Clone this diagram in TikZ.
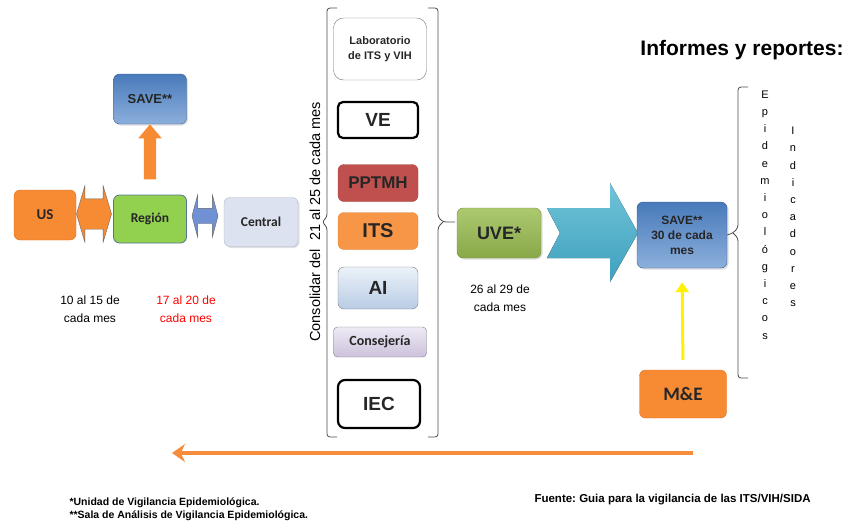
\documentclass[tikz,border=0pt]{standalone}
\usepackage{fontspec}
\setmainfont{Liberation Sans}
\newfontfamily\calibrifont{Carlito}
\usetikzlibrary{shapes.arrows,arrows.meta,shadows}
\definecolor{usorange}{RGB}{247,139,52}
\definecolor{usborder}{RGB}{222,110,30}
\definecolor{regiongreen}{RGB}{146,208,80}
\definecolor{regionborder}{RGB}{85,115,150}
\definecolor{savetop}{RGB}{72,122,186}
\definecolor{savebottom}{RGB}{140,175,220}
\definecolor{saveborder}{RGB}{60,95,145}
\definecolor{centralfill}{RGB}{221,226,240}
\definecolor{centralborder}{RGB}{175,182,200}
\definecolor{pptmhred}{RGB}{192,80,77}
\definecolor{itsorange}{RGB}{247,150,70}
\definecolor{aitop}{RGB}{236,242,249}
\definecolor{aibottom}{RGB}{184,204,228}
\definecolor{consejtop}{RGB}{238,234,244}
\definecolor{consejbottom}{RGB}{204,193,219}
\definecolor{uvetop}{RGB}{172,201,112}
\definecolor{uvebottom}{RGB}{137,168,72}
\definecolor{uveborder}{RGB}{118,146,62}
\definecolor{chevtop}{RGB}{112,196,216}
\definecolor{chevbottom}{RGB}{62,160,190}
\definecolor{arrowblue}{RGB}{112,146,212}
\definecolor{flowline}{RGB}{247,140,60}

\tikzset{
  box/.style={draw, rounded corners=6pt, inner sep=1pt, align=center, text=black!85},
  thickbox/.style={box, fill=white, line width=2.2pt, draw=black, rounded corners=5pt},
  softshadow/.style={drop shadow={opacity=0.25, shadow xshift=1.5pt, shadow yshift=-1.5pt}},
  bracket/.style={draw=black!70, line width=0.8pt, rounded corners=3pt},
  datetext/.style={align=center, font=\fontsize{12}{18}\selectfont},
  stackedtext/.style={align=center, font=\fontsize{11}{17.2}\selectfont},
}

\begin{document}
\frenchspacing
\begin{tikzpicture}[x=1pt, y=-1pt]
    \useasboundingbox (0,0) rectangle (850,531);

    % left flow
    \node[box, fill=usorange, draw=usborder, minimum width=62pt, minimum height=50pt,
          font=\calibrifont\bfseries\fontsize{15}{17}\selectfont] (us) at (45,215) {US};
    \node[box, fill=regiongreen, draw=regionborder, line width=0.8pt, minimum width=73pt, minimum height=48pt,
          font=\calibrifont\bfseries\fontsize{13.5}{15}\selectfont] (region) at (150,219) {Región};
    \node[box, top color=savetop, bottom color=savebottom, draw=saveborder, minimum width=73pt, minimum height=50pt,
          softshadow, font=\bfseries\fontsize{13}{15}\selectfont] (savetop) at (150,99) {SAVE**};
    \node[box, fill=centralfill, draw=centralborder, minimum width=74pt, minimum height=49pt, softshadow,
          font=\calibrifont\bfseries\fontsize{13.5}{15}\selectfont] (central) at (261,222) {Central};

    \node[double arrow, draw=black!60, fill=usorange, inner xsep=0pt, inner ysep=15pt, minimum height=35pt,
          double arrow head extend=13pt, double arrow tip angle=147] (usregion) at (94,214) {};
    \node[double arrow, draw=black!60, fill=arrowblue, inner xsep=0pt, inner ysep=7.5pt, minimum height=26pt,
          double arrow head extend=13.5pt, double arrow tip angle=150] (regioncentral) at (205,216) {};
    \node[single arrow, fill=usorange, inner xsep=0pt, inner ysep=6pt, minimum height=55pt,
          single arrow head extend=5.5pt, single arrow tip angle=80, rotate=90] (regionsave) at (150,155.5) {};

    \node[datetext] (usdate) at (90,309) {10 al 15 de\\cada mes};
    \node[datetext, text=red] (regiondate) at (186,309) {17 al 20 de\\cada mes};

    % programs to consolidate
    \node[box, fill=white, draw=black!55, rounded corners=10pt, minimum width=93pt, minimum height=62pt,
          font=\bfseries\fontsize{11}{15}\selectfont] (lab) at (380,49) {Laboratorio\\de ITS y VIH};
    \node[thickbox, minimum width=80pt, minimum height=36pt, font=\bfseries\fontsize{19}{21}\selectfont] (ve) at (378,120) {VE};
    \node[box, fill=pptmhred, draw=pptmhred!85!black, minimum width=80pt, minimum height=37pt,
          font=\bfseries\fontsize{17}{19}\selectfont] (pptmh) at (378,183) {PPTMH};
    \node[box, fill=itsorange, draw=itsorange!90!black, minimum width=80pt, minimum height=37pt,
          font=\bfseries\fontsize{20}{22}\selectfont] (its) at (378,231) {ITS};
    \node[box, top color=aitop, bottom color=aibottom, draw=black!50, minimum width=80pt, minimum height=42pt,
          font=\bfseries\fontsize{19}{21}\selectfont] (ai) at (378,288) {AI};
    \node[box, top color=consejtop, bottom color=consejbottom, draw=black!50, rounded corners=4pt,
          minimum width=93pt, minimum height=30pt,
          font=\calibrifont\bfseries\fontsize{14}{16}\selectfont] (consejeria) at (380,342) {Consejería};
    \node[thickbox, minimum width=82pt, minimum height=48pt, rounded corners=7pt,
          font=\bfseries\fontsize{19}{21}\selectfont] (iec) at (379,404) {IEC};

    \draw[bracket] (337,8) -- (327,8) -- (327,217) -- (322,222) -- (327,227) -- (327,437) -- (337,437);
    \draw[bracket] (428,8) -- (438,8) -- (438,217) -- (443,222) -- (455,222);
    \draw[bracket] (443,222) -- (438,227) -- (438,437) -- (428,437);
    \node[rotate=90, font=\fontsize{14.5}{16}\selectfont] (consolidar) at (315,222) {Consolidar del\ \ 21 al 25 de cada mes};

    % national level
    \node[box, top color=uvetop, bottom color=uvebottom, draw=uveborder, minimum width=84pt, minimum height=50pt,
          softshadow, font=\bfseries\fontsize{18}{20}\selectfont] (uve) at (499,233) {UVE*};
    \node[datetext] (uvedate) at (500,298) {26 al 29 de\\cada mes};
    \fill[top color=chevtop, bottom color=chevbottom]
        (547,208) -- (610,208) -- (610,183) -- (638,233) -- (610,282) -- (610,258) -- (547,258) -- (560,233) -- cycle;

    \node[box, top color=savetop, bottom color=savebottom, draw=saveborder, minimum width=90pt, minimum height=66pt,
          softshadow, font=\bfseries\fontsize{12}{15}\selectfont] (save) at (682,235) {SAVE**\\30 de cada\\mes};
    \node[box, fill=usorange, draw=usborder, minimum width=87pt, minimum height=48pt,
          font=\calibrifont\bfseries\fontsize{19}{21}\selectfont] (me) at (683,394) {M\&E};
    \draw[-{Triangle[length=10pt,width=13pt]}, line width=3pt, yellow, shorten <=10pt, shorten >=14pt] (me.north) -- (save.south);

    \node[font=\bfseries\fontsize{21}{24}\selectfont] (informes) at (742,50) {Informes y reportes:};
    \draw[bracket] (748,87) -- (738,87) -- (738,228) -- (733,233) -- (save.east);
    \draw[bracket] (733,233) -- (738,238) -- (738,378) -- (748,378);
    \node[stackedtext] (epidem) at (765,215) {E\\p\\i\\d\\e\\m\\i\\o\\l\\ó\\g\\i\\c\\o\\s};
    \node[stackedtext] (indic) at (793,217) {I\\n\\d\\i\\c\\a\\d\\o\\r\\e\\s};

    % feedback
    \coordinate (fbstart) at (693,453);
    \coordinate (fbend) at (172,453);
    \draw[-{Stealth[length=13pt,width=18pt]}, line width=4pt, flowline] (fbstart) -- (fbend);

    \node[anchor=west, align=left, font=\bfseries\fontsize{10.5}{12.5}\selectfont] (notes) at (66,509)
        {*Unidad de Vigilancia Epidemiológica.\\**Sala de Análisis de Vigilancia Epidemiológica.};
    \node[anchor=west, font=\bfseries\fontsize{11.5}{13}\selectfont] (fuente) at (531,500)
        {Fuente: Guia para la vigilancia de las ITS/VIH/SIDA};
\end{tikzpicture}
\end{document}
